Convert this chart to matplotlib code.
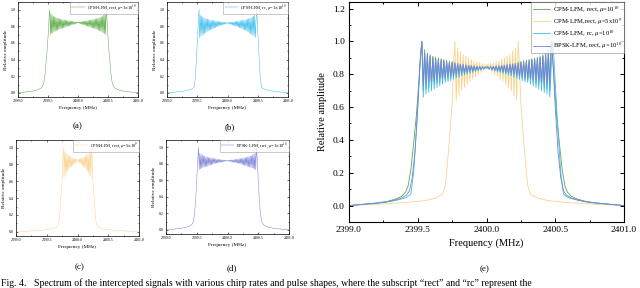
import matplotlib
matplotlib.use("Agg")
import matplotlib.pyplot as plt
import numpy as np

plt.rcParams['font.family'] = ['Liberation Serif', 'DejaVu Serif']
plt.rcParams['mathtext.fontset'] = 'stix'

# ---- data ----
# CPM-LFM, rect, mu=1e10 (green)
g_left_f = [2399.00, 2399.10, 2399.20, 2399.28, 2399.34, 2399.38, 2399.41, 2399.43, 2399.45, 2399.47, 2399.49, 2399.51, 2399.52, 2399.53]
g_left_a = [0.000, 0.008, 0.016, 0.026, 0.040, 0.055, 0.080, 0.120, 0.220, 0.380, 0.550, 0.780, 0.920, 1.000]
g_ripple = [0.70, 0.95, 0.71, 0.93, 0.72, 0.92, 0.73, 0.91, 0.74, 0.905, 0.745, 0.90, 0.75, 0.895, 0.76, 0.89,
            0.765, 0.885, 0.77, 0.88, 0.775, 0.878, 0.78, 0.875, 0.785, 0.872, 0.79, 0.87, 0.795, 0.868, 0.80, 0.865,
            0.805, 0.862, 0.81, 0.86, 0.815, 0.857, 0.82, 0.855, 0.825, 0.852, 0.83, 0.85, 0.835, 0.848,
            0.84,
            0.849, 0.834, 0.851, 0.829, 0.853, 0.824, 0.856, 0.819, 0.858, 0.814, 0.861, 0.809, 0.863, 0.804, 0.866, 0.799,
            0.869, 0.794, 0.871, 0.789, 0.874, 0.784, 0.876, 0.779, 0.879, 0.774, 0.884, 0.769, 0.886, 0.764, 0.891, 0.759,
            0.896, 0.749, 0.899, 0.744, 0.904, 0.739, 0.909, 0.729, 0.918, 0.719, 0.932, 0.709, 0.948, 0.702]
g_right_f = [2400.47, 2400.48, 2400.49, 2400.51, 2400.53, 2400.55, 2400.57, 2400.59, 2400.62, 2400.66, 2400.72, 2400.80, 2400.90, 2401.00]
g_right_a = [1.000, 0.920, 0.780, 0.550, 0.380, 0.220, 0.120, 0.080, 0.055, 0.040, 0.026, 0.016, 0.008, 0.000]

# CPM-LFM, rect, mu=5e9 (orange)
o_left_f = [2399.00, 2399.20, 2399.40, 2399.55, 2399.63, 2399.68, 2399.70, 2399.71, 2399.73, 2399.75, 2399.76, 2399.77]
o_left_a = [0.000, 0.008, 0.018, 0.030, 0.045, 0.070, 0.120, 0.200, 0.400, 0.620, 0.850, 1.000]
o_ripple = [0.64, 0.96, 0.67, 0.94, 0.70, 0.92, 0.72, 0.91, 0.74, 0.90, 0.76, 0.89, 0.77, 0.88, 0.785, 0.875,
            0.80, 0.87, 0.81, 0.865, 0.825, 0.86,
            0.845,
            0.862, 0.827, 0.866, 0.812, 0.871, 0.798, 0.876, 0.786, 0.882, 0.768, 0.891, 0.757, 0.902, 0.738, 0.912, 0.718,
            0.922, 0.698, 0.942, 0.668, 0.958, 0.645]
o_right_f = [2400.23, 2400.24, 2400.25, 2400.27, 2400.29, 2400.30, 2400.32, 2400.37, 2400.45, 2400.60, 2400.80, 2401.00]
o_right_a = [1.000, 0.850, 0.620, 0.400, 0.200, 0.120, 0.070, 0.045, 0.030, 0.018, 0.008, 0.000]

# CPM-LFM, rc, mu=1e10 (light blue)
b_left_f = [2399.00, 2399.15, 2399.28, 2399.36, 2399.42, 2399.45, 2399.47, 2399.49, 2399.51, 2399.52, 2399.53]
b_left_a = [0.000, 0.010, 0.022, 0.035, 0.050, 0.070, 0.200, 0.450, 0.750, 0.900, 1.000]
b_ripple = [0.66, 0.93, 0.68, 0.92, 0.69, 0.91, 0.70, 0.90, 0.71, 0.895, 0.72, 0.89, 0.73, 0.885, 0.74, 0.88,
            0.75, 0.875, 0.755, 0.872, 0.76, 0.87, 0.77, 0.867, 0.775, 0.865, 0.78, 0.862, 0.79, 0.86, 0.795, 0.857,
            0.80, 0.855, 0.805, 0.852, 0.81, 0.85, 0.815, 0.848, 0.82, 0.846, 0.825, 0.844, 0.83, 0.842,
            0.835,
            0.843, 0.829, 0.845, 0.824, 0.847, 0.819, 0.849, 0.814, 0.851, 0.809, 0.853, 0.804, 0.856, 0.799, 0.858, 0.794,
            0.861, 0.789, 0.863, 0.779, 0.866, 0.774, 0.868, 0.769, 0.871, 0.759, 0.873, 0.754, 0.876, 0.749, 0.881, 0.739,
            0.886, 0.729, 0.891, 0.719, 0.896, 0.709, 0.902, 0.699, 0.911, 0.689, 0.922, 0.679, 0.935, 0.662]
b_right_f = [2400.48, 2400.49, 2400.50, 2400.52, 2400.54, 2400.56, 2400.59, 2400.65, 2400.73, 2400.86, 2401.00]
b_right_a = [1.000, 0.900, 0.750, 0.450, 0.200, 0.070, 0.050, 0.035, 0.022, 0.010, 0.000]

# BPSK-LFM, rect, mu=1e10 (purple)
p_left_f = [2399.00, 2399.12, 2399.24, 2399.32, 2399.38, 2399.42, 2399.44, 2399.46, 2399.48, 2399.50, 2399.515, 2399.53]
p_left_a = [0.000, 0.009, 0.018, 0.030, 0.045, 0.065, 0.090, 0.170, 0.330, 0.600, 0.850, 1.000]
p_ripple = [0.73, 0.93, 0.74, 0.92, 0.75, 0.91, 0.755, 0.90, 0.76, 0.895, 0.765, 0.89, 0.77, 0.885, 0.775, 0.88,
            0.78, 0.876, 0.785, 0.873, 0.79, 0.87, 0.795, 0.867, 0.80, 0.864, 0.805, 0.861, 0.81, 0.858, 0.812, 0.856,
            0.815, 0.854, 0.818, 0.852, 0.82, 0.85, 0.825, 0.848, 0.828, 0.846, 0.83, 0.844, 0.835, 0.842,
            0.838,
            0.843, 0.834, 0.845, 0.829, 0.847, 0.826, 0.849, 0.822, 0.851, 0.819, 0.853, 0.816, 0.855, 0.813, 0.857, 0.81,
            0.86, 0.806, 0.862, 0.801, 0.865, 0.796, 0.868, 0.791, 0.871, 0.786, 0.874, 0.781, 0.877, 0.776, 0.881, 0.771,
            0.886, 0.766, 0.891, 0.761, 0.896, 0.756, 0.901, 0.751, 0.911, 0.746, 0.921, 0.739, 0.931, 0.728]
p_right_f = [2400.47, 2400.485, 2400.50, 2400.52, 2400.54, 2400.56, 2400.58, 2400.62, 2400.68, 2400.76, 2400.88, 2401.00]
p_right_a = [1.000, 0.850, 0.600, 0.330, 0.170, 0.090, 0.065, 0.045, 0.030, 0.018, 0.009, 0.000]

# frequency bins of the passband ripple (0.01 MHz spacing)
wide_bins = np.round(np.arange(2399.54, 2400.465, 0.01), 2)
narrow_bins = np.round(np.arange(2399.78, 2400.225, 0.01), 2)


def series(lf, la, bins, rip, rf, ra):
    f = np.concatenate([lf, bins, rf])
    a = np.concatenate([la, rip, ra])
    return f, a


green = series(g_left_f, g_left_a, wide_bins, g_ripple, g_right_f, g_right_a)
orange = series(o_left_f, o_left_a, narrow_bins, o_ripple, o_right_f, o_right_a)
blue = series(b_left_f, b_left_a, wide_bins, b_ripple, b_right_f, b_right_a)
purple = series(p_left_f, p_left_a, wide_bins, p_ripple, p_right_f, p_right_a)

c_green = '#5aaa46'
c_orange = '#fbd28e'
c_blue = '#3dbdec'
c_purple = '#7c80d6'

W, H = 640, 288
fig = plt.figure(figsize=(6.4, 2.88), dpi=100)


def px_axes(l, t, r, b):
    return fig.add_axes([l / W, 1 - b / H, (r - l) / W, (b - t) / H])


def style_small(ax):
    ax.set_xlim(2399.0, 2401.0)
    ax.set_ylim(-0.05, 1.09)
    ax.set_xticks([2399.0, 2399.5, 2400.0, 2400.5, 2401.0])
    ax.set_xticklabels(['2399.0', '2399.5', '2400.0', '2400.5', '2401.0'])
    ax.set_xticks([2399.25, 2399.75, 2400.25, 2400.75], minor=True)
    ax.set_yticks([0.0, 0.2, 0.4, 0.6, 0.8, 1.0])
    ax.set_yticklabels(['0.0', '0.2', '0.4', '0.6', '0.8', '1.0'])
    ax.set_yticks([0.1, 0.3, 0.5, 0.7, 0.9], minor=True)
    ax.tick_params(which='both', direction='in', top=True, right=True, labelsize=2.8, pad=1.5, width=0.4)
    ax.tick_params(which='major', length=1.5)
    ax.tick_params(which='minor', length=0.8)
    for s in ax.spines.values():
        s.set_linewidth(0.5)
    ax.set_xlabel('Frequency (MHz)', fontsize=3.8, labelpad=2)
    ax.set_ylabel('Relative amplitude', fontsize=3.8, labelpad=2)


small = [
    ((18, 2, 138, 97), green, c_green, r'CPM-LFM, rect, $\mu$=1$\times$10$^{10}$', '(a)', 78, 126),
    ((167, 2, 288, 97), blue, c_blue, r'CPM-LFM, rc, $\mu$=1$\times$10$^{10}$', '(b)', 230, 127),
    ((16, 140, 139, 236), orange, c_orange, r'CPM-LFM, rect, $\mu$=5$\times$10$^{9}$', '(c)', 80, 267),
    ((166, 140, 289, 234), purple, c_purple, r'BPSK-LFM, rect, $\mu$=1$\times$10$^{10}$', '(d)', 232, 268),
]

for box, (f, a), col, lab, tag, tx, ty in small:
    ax = px_axes(*box)
    ax.plot(f, a, color=col, lw=0.35, label=lab)
    style_small(ax)
    leg = ax.legend(loc='upper right', fontsize=3.2, frameon=True, fancybox=False,
                    borderaxespad=0, handlelength=3.0, borderpad=0.25, handletextpad=0.5)
    leg.get_frame().set_edgecolor('#888888')
    leg.get_frame().set_linewidth(0.4)
    fig.text(tx / W, 1 - ty / H, tag, fontsize=6.5, ha='center', va='center')

# ---- big panel (e) ----
ax = px_axes(349, 2, 624, 222)
ax.plot(*green, color=c_green, lw=0.6, label=r'CPM-LFM, rect, $\mu$=10$^{10}$')
ax.plot(*orange, color=c_orange, lw=0.6, label=r'CPM-LFM,rect, $\mu$=5x10$^{9}$')
ax.plot(*blue, color=c_blue, lw=0.6, label=r'CPM-LFM, rc, $\mu$=10$^{10}$')
ax.plot(*purple, color=c_purple, lw=0.6, label=r'BPSK-LFM, rect, $\mu$=10$^{10}$')
ax.set_xlim(2399.0, 2401.0)
ax.set_ylim(-0.1, 1.24)
ax.set_xticks([2399.0, 2399.5, 2400.0, 2400.5, 2401.0])
ax.set_xticklabels(['2399.0', '2399.5', '2400.0', '2400.5', '2401.0'])
ax.set_xticks([2399.25, 2399.75, 2400.25, 2400.75], minor=True)
ax.set_yticks([0.0, 0.2, 0.4, 0.6, 0.8, 1.0, 1.2])
ax.set_yticklabels(['0.0', '0.2', '0.4', '0.6', '0.8', '1.0', '1.2'])
ax.set_yticks([0.1, 0.3, 0.5, 0.7, 0.9, 1.1], minor=True)
ax.tick_params(which='both', direction='in', top=True, right=True, labelsize=6.8, pad=3, width=0.7)
ax.tick_params(which='major', length=3)
ax.tick_params(which='minor', length=1.6)
for s in ax.spines.values():
    s.set_linewidth(0.8)
ax.set_xlabel('Frequency (MHz)', fontsize=7.5, labelpad=3)
ax.set_ylabel('Relative amplitude', fontsize=7.5, labelpad=4)
leg = ax.legend(loc='upper right', fontsize=4.8, frameon=True, fancybox=False, borderaxespad=0,
                handlelength=2.5, labelspacing=0.2, borderpad=0.25, handletextpad=0.5)
leg.get_frame().set_edgecolor('#888888')
leg.get_frame().set_linewidth(0.5)
fig.text(485 / W, 1 - 269 / H, '(e)', fontsize=6.5, ha='center', va='center')

# caption at the bottom edge
fig.text(0.002, 0.5 / H,
         'Fig. 4.   Spectrum of the intercepted signals with various chirp rates and pulse shapes, '
         'where the subscript \u201crect\u201d and \u201crc\u201d represent the',
         fontsize=7, ha='left', va='bottom')

fig.savefig('out.png', dpi=100)
